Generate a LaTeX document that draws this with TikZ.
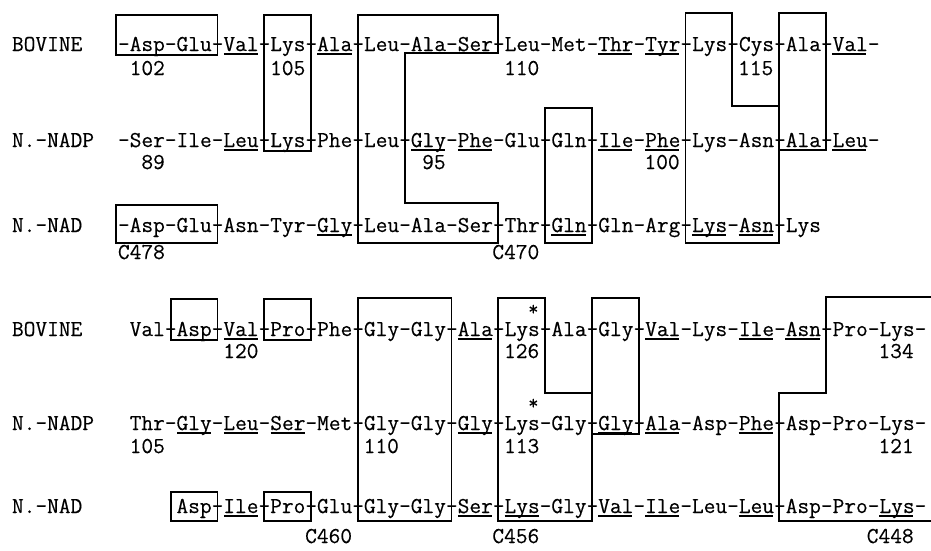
\documentclass[tikz,border=0pt]{standalone}
\usepackage{fontspec}
\setmonofont[FakeBold=0.35]{Latin Modern Mono}
\newcommand\colx[1]{118+11.7*(#1)}
\newcommand\midx[1]{118+11.7*(#1+0.5)}
\tikzset{
  seq/.style={anchor=base west, inner sep=0pt, outer sep=0pt, font=\ttfamily\fontsize{22.75}{22.75}\selectfont, text=black},
  frame/.style={draw=black, line width=1.8pt, line join=miter},
  uline/.style={draw=black, line width=1.1pt},
  star/.style={inner sep=0pt, outer sep=0pt, anchor=center, font=\ttfamily\fontsize{20}{20}\selectfont}
}
\newcommand\ul[2]{\draw[uline] ({\colx{#2}+0.5},#1) -- ({\colx{#2+3}-0.5},#1);}
\begin{document}
\begin{tikzpicture}[x=1pt,y=-1pt]
\useasboundingbox[fill=white] (0,0) rectangle (931,550);
% ---------- labels
\node[seq] (l1) at (12,51) {BOVINE};
\node[seq] (l2) at (12,147) {N.-NADP};
\node[seq] (l3) at (12,232) {N.-NAD};
\node[seq] (l4) at (12,336) {BOVINE};
\node[seq] (l5) at (12,430) {N.-NADP};
\node[seq] (l6) at (12,513) {N.-NAD};
% ---------- sequences, top block
\node[seq] (r1) at ({\colx{0}},51) {-Asp-Glu-Val-Lys-Ala-Leu-Ala-Ser-Leu-Met-Thr-Tyr-Lys-Cys-Ala-Val-};
\node[seq] (r2) at ({\colx{0}},147) {-Ser-Ile-Leu-Lys-Phe-Leu-Gly-Phe-Glu-Gln-Ile-Phe-Lys-Asn-Ala-Leu-};
\node[seq] (r3) at ({\colx{0}},232) {-Asp-Glu-Asn-Tyr-Gly-Leu-Ala-Ser-Thr-Gln-Gln-Arg-Lys-Asn-Lys};
% numbers top block
\node[seq] (n102) at ({\colx{1}},75) {102};
\node[seq] (n105) at ({\colx{13}},75) {105};
\node[seq] (n110) at ({\colx{33}},75) {110};
\node[seq] (n115) at ({\colx{53}},75) {115};
\node[seq] (n89) at ({\colx{2}},169) {89};
\node[seq] (n95) at ({\colx{26}},169) {95};
\node[seq] (n100) at ({\colx{45}},169) {100};
\node[seq] (nC478) at ({\colx{0}},259) {C478};
\node[seq] (nC470) at ({\colx{32}},259) {C470};
% ---------- sequences, bottom block
\node[seq] (r4) at ({\colx{1}},336) {Val-Asp-Val-Pro-Phe-Gly-Gly-Ala-Lys-Ala-Gly-Val-Lys-Ile-Asn-Pro-Lys-};
\node[seq] (r5) at ({\colx{1}},430) {Thr-Gly-Leu-Ser-Met-Gly-Gly-Gly-Lys-Gly-Gly-Ala-Asp-Phe-Asp-Pro-Lys-};
\node[seq] (r6) at ({\colx{5}},513) {Asp-Ile-Pro-Glu-Gly-Gly-Ser-Lys-Gly-Val-Ile-Leu-Leu-Asp-Pro-Lys-};
\node[seq] (n120) at ({\colx{9}},358) {120};
\node[seq] (n126) at ({\colx{33}},358) {126};
\node[seq] (n134) at ({\colx{65}},358) {134};
\node[seq] (n105b) at ({\colx{1}},453) {105};
\node[seq] (n110b) at ({\colx{21}},453) {110};
\node[seq] (n113) at ({\colx{33}},453) {113};
\node[seq] (n121) at ({\colx{65}},453) {121};
\node[seq] (nC460) at ({\colx{16}},543) {C460};
\node[seq] (nC456) at ({\colx{32}},543) {C456};
\node[seq] (nC448) at ({\colx{64}},543) {C448};
% asterisks
\node[star] (s1) at ({\midx{35}},310) {*};
\node[star] (s2) at ({\midx{35}},404) {*};
% ---------- underlines
\ul{54}{9}\ul{54}{17}\ul{54}{41}\ul{54}{45}\ul{54}{61}
\ul{150}{9}\ul{150}{25}\ul{150}{29}\ul{150}{41}\ul{150}{45}\ul{150}{61}
\ul{235}{17}\ul{235}{37}\ul{235}{49}\ul{235}{53}
\ul{339}{9}\ul{339}{29}\ul{339}{45}\ul{339}{53}\ul{339}{57}
\ul{433}{5}\ul{433}{9}\ul{433}{13}\ul{433}{29}\ul{433}{41}\ul{433}{45}\ul{433}{53}
\ul{516}{9}\ul{516}{29}\ul{516}{33}\ul{516}{41}\ul{516}{45}\ul{516}{53}\ul{516}{65}
% ---------- frames, top block
\draw[frame] (116,15) rectangle ({\midx{8}},55);
\draw[frame] ({\midx{12}},15) rectangle ({\midx{16}},151);
\draw[frame] ({\midx{20}},15) -- ({\midx{32}},15) -- ({\midx{32}},53) -- ({\midx{24}},53)
   -- ({\midx{24}},203) -- ({\midx{32}},203) -- ({\midx{32}},243) -- ({\midx{20}},243) -- cycle;
\draw[frame] ({\midx{36}},108) rectangle ({\midx{40}},243);
\draw[frame] ({\midx{48}},13) -- ({\midx{52}},13) -- ({\midx{52}},106) -- ({\midx{56}},106)
   -- ({\midx{56}},243) -- ({\midx{48}},243) -- cycle;
\draw[frame] ({\midx{56}},13) rectangle ({\midx{60}},150);
\draw[frame] (116,205) rectangle ({\midx{8}},243);
% ---------- frames, bottom block
\draw[frame] ({\midx{4}},299) rectangle ({\midx{8}},340);
\draw[frame] ({\midx{12}},299) rectangle ({\midx{16}},340);
\draw[frame] ({\midx{20}},298) rectangle ({\midx{28}},521);
\draw[frame] ({\midx{32}},298) -- ({\midx{36}},298) -- ({\midx{36}},393) -- ({\midx{40}},393)
   -- ({\midx{40}},521) -- ({\midx{32}},521) -- cycle;
\draw[frame] ({\midx{40}},298) rectangle ({\midx{44}},434);
\draw[frame] (931,297) -- ({\midx{60}},297) -- ({\midx{60}},393) -- ({\midx{56}},393)
   -- ({\midx{56}},521) -- (931,521);
\draw[frame] ({\midx{4}},492) rectangle ({\midx{8}},521);
\draw[frame] ({\midx{12}},492) rectangle ({\midx{16}},521);
\end{tikzpicture}
\end{document}
